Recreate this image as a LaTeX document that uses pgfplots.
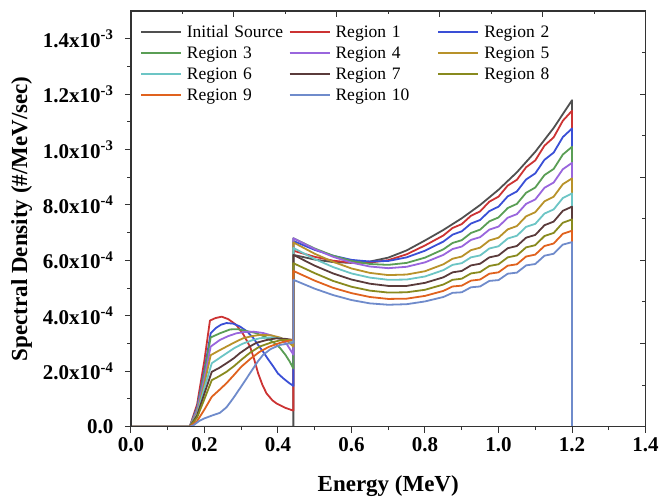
\documentclass[border=0pt]{standalone}
\usepackage{fontspec}
\setmainfont{Liberation Serif}
\usepackage{pgfplots}
\pgfplotsset{compat=1.18}
\definecolor{cSRC}{HTML}{505050}
\definecolor{cR1}{HTML}{CC3333}
\definecolor{cR2}{HTML}{3A4FD6}
\definecolor{cR3}{HTML}{5A9E55}
\definecolor{cR4}{HTML}{9966DD}
\definecolor{cR5}{HTML}{B8922A}
\definecolor{cR6}{HTML}{6CC5C5}
\definecolor{cR7}{HTML}{5A3B3B}
\definecolor{cR8}{HTML}{888A1E}
\definecolor{cR9}{HTML}{E0621E}
\definecolor{cR10}{HTML}{6F8BCB}
\begin{document}
\begin{tikzpicture}
\begin{axis}[
    name=main,
    width=515pt, height=416pt, scale only axis,
    xmin=0, xmax=1.4, ymin=0, ymax=15,
    xtick={0,0.2,0.4,0.6,0.8,1.0,1.2,1.4},
    xticklabels={0.0,0.2,0.4,0.6,0.8,1.0,1.2,1.4},
    minor x tick num=1,
    ytick={0,2,4,6,8,10,12,14},
    yticklabels={0.0, 2.0x10\textsuperscript{-4}, 4.0x10\textsuperscript{-4}, 6.0x10\textsuperscript{-4}, 8.0x10\textsuperscript{-4}, 1.0x10\textsuperscript{-3}, 1.2x10\textsuperscript{-3}, 1.4x10\textsuperscript{-3}},
    minor y tick num=1,
    xtick pos=left, ytick pos=left, tick align=outside,
    major tick length=6pt, minor tick length=3.5pt,
    tick style={black!80, line width=1pt},
    axis line style={black!80, line width=1.2pt},
    ticklabel style={font=\fontsize{21}{24}\selectfont\bfseries},
    yticklabel style={xshift=-8pt},
    xticklabel style={yshift=-1pt},
    xlabel={Energy (MeV)},
    ylabel={Spectral Density (\#/MeV/sec)},
    label style={font=\fontsize{23}{26}\selectfont\bfseries},
    xlabel style={yshift=-17pt},
    ylabel style={yshift=4pt},
    legend columns=3, legend cell align=left,
    legend style={draw=none, fill=none, inner sep=0pt, at={(0.0175,0.972)}, anchor=north west,
        font=\fontsize{17.5}{20}\selectfont, row sep=2.5pt,
        /tikz/every even column/.append style={text width=100pt, text height=13pt, text depth=4pt, inner sep=1pt},
        /tikz/every odd column/.append style={column sep=3pt}},
    legend image code/.code={\draw[#1] (0pt,0pt) -- (40pt,0pt);},
    every axis plot/.append style={line width=1.8pt, line join=round},
]
\addplot[cSRC] coordinates {(0,0) (0.442,0) (0.442,6.20) (0.5,6.03) (0.55,5.94) (0.6,5.91) (0.65,5.96) (0.7,6.10) (0.75,6.36) (0.8,6.72) (0.85,7.10) (0.9,7.52) (0.95,8.00) (1.0,8.55) (1.05,9.18) (1.1,9.92) (1.15,10.78) (1.2,11.78) (1.2,0)};
\addplot[cR1] coordinates {(0,0) (0.16,0) (0.18,0.8) (0.2,2.4) (0.215,3.83) (0.23,3.92) (0.247,3.97) (0.265,3.88) (0.287,3.67) (0.305,3.35) (0.324,2.89) (0.335,2.45) (0.346,1.93) (0.358,1.5) (0.369,1.2) (0.385,0.95) (0.396,0.84) (0.42,0.68) (0.442,0.58) (0.442,6.35) (0.5,6.13) (0.55,5.99) (0.6,5.92) (0.65,5.92) (0.7,6.01) (0.75,6.22) (0.8,6.54) (0.85,6.90) (0.875,7.17) (0.9,7.31) (0.925,7.61) (0.95,7.77) (0.975,8.12) (1.0,8.30) (1.025,8.70) (1.05,8.91) (1.075,9.36) (1.1,9.61) (1.125,10.14) (1.15,10.44) (1.175,11.04) (1.2,11.40) (1.2,0)};
\addplot[cR2] coordinates {(0,0) (0.16,0) (0.18,0.7) (0.2,2.05) (0.217,3.37) (0.23,3.55) (0.245,3.68) (0.26,3.74) (0.278,3.72) (0.296,3.62) (0.315,3.45) (0.333,3.2) (0.346,2.95) (0.36,2.7) (0.374,2.42) (0.388,2.16) (0.4,1.92) (0.414,1.75) (0.43,1.58) (0.442,1.47) (0.442,6.70) (0.5,6.38) (0.55,6.17) (0.6,6.02) (0.65,5.96) (0.7,5.98) (0.75,6.11) (0.8,6.35) (0.85,6.68) (0.875,6.93) (0.9,7.05) (0.925,7.33) (0.95,7.46) (0.975,7.78) (1.0,7.94) (1.025,8.31) (1.05,8.49) (1.075,8.92) (1.1,9.14) (1.125,9.63) (1.15,9.89) (1.175,10.45) (1.2,10.76) (1.2,0)};
\addplot[cR3] coordinates {(0,0) (0.16,0) (0.18,0.65) (0.2,1.95) (0.217,3.22) (0.242,3.37) (0.27,3.51) (0.29,3.52) (0.315,3.45) (0.34,3.38) (0.369,3.22) (0.39,3.02) (0.405,2.85) (0.42,2.6) (0.432,2.35) (0.442,2.1) (0.442,6.80) (0.5,6.43) (0.55,6.17) (0.6,5.98) (0.65,5.87) (0.7,5.84) (0.75,5.91) (0.8,6.10) (0.85,6.40) (0.875,6.63) (0.9,6.73) (0.925,6.99) (0.95,7.11) (0.975,7.41) (1.0,7.55) (1.025,7.89) (1.05,8.04) (1.075,8.44) (1.1,8.63) (1.125,9.08) (1.15,9.30) (1.175,9.82) (1.2,10.10) (1.2,0)};
\addplot[cR4] coordinates {(0,0) (0.16,0) (0.18,0.6) (0.2,1.75) (0.217,2.89) (0.242,3.13) (0.265,3.27) (0.287,3.37) (0.31,3.42) (0.333,3.43) (0.36,3.38) (0.388,3.27) (0.405,3.17) (0.423,3.0) (0.442,2.6) (0.442,6.80) (0.5,6.41) (0.55,6.13) (0.6,5.92) (0.65,5.78) (0.7,5.72) (0.75,5.77) (0.8,5.93) (0.85,6.20) (0.875,6.41) (0.9,6.50) (0.925,6.74) (0.95,6.84) (0.975,7.11) (1.0,7.22) (1.025,7.54) (1.05,7.67) (1.075,8.04) (1.1,8.20) (1.125,8.62) (1.15,8.81) (1.175,9.29) (1.2,9.52) (1.2,0)};
\addplot[cR5] coordinates {(0,0) (0.16,0) (0.18,0.5) (0.2,1.55) (0.217,2.58) (0.24,2.75) (0.26,2.89) (0.283,3.05) (0.305,3.19) (0.33,3.27) (0.35,3.31) (0.38,3.3) (0.405,3.22) (0.425,3.1) (0.442,2.89) (0.442,6.65) (0.5,6.24) (0.55,5.95) (0.6,5.71) (0.65,5.55) (0.7,5.47) (0.75,5.49) (0.8,5.61) (0.85,5.86) (0.875,6.06) (0.9,6.14) (0.925,6.37) (0.95,6.46) (0.975,6.72) (1.0,6.82) (1.025,7.12) (1.05,7.24) (1.075,7.59) (1.1,7.74) (1.125,8.13) (1.15,8.30) (1.175,8.75) (1.2,8.96) (1.2,0)};
\addplot[cR6] coordinates {(0,0) (0.16,0) (0.18,0.45) (0.2,1.4) (0.22,2.29) (0.24,2.47) (0.26,2.65) (0.283,2.85) (0.305,3.0) (0.33,3.12) (0.35,3.19) (0.38,3.22) (0.405,3.19) (0.442,3.07) (0.442,6.45) (0.5,6.05) (0.55,5.76) (0.6,5.53) (0.65,5.38) (0.7,5.30) (0.75,5.31) (0.8,5.42) (0.85,5.65) (0.875,5.84) (0.9,5.90) (0.925,6.11) (0.95,6.18) (0.975,6.43) (1.0,6.51) (1.025,6.79) (1.05,6.89) (1.075,7.21) (1.1,7.32) (1.125,7.69) (1.15,7.84) (1.175,8.25) (1.2,8.42) (1.2,0)};
\addplot[cR7] coordinates {(0,0) (0.16,0) (0.18,0.4) (0.2,1.2) (0.22,1.98) (0.24,2.12) (0.26,2.29) (0.28,2.47) (0.296,2.65) (0.32,2.87) (0.342,3.03) (0.37,3.13) (0.396,3.19) (0.42,3.17) (0.442,3.13) (0.442,6.20) (0.5,5.81) (0.55,5.53) (0.6,5.31) (0.65,5.16) (0.7,5.08) (0.75,5.08) (0.8,5.19) (0.85,5.39) (0.875,5.57) (0.9,5.62) (0.925,5.82) (0.95,5.88) (0.975,6.11) (1.0,6.18) (1.025,6.44) (1.05,6.52) (1.075,6.82) (1.1,6.92) (1.125,7.27) (1.15,7.40) (1.175,7.79) (1.2,7.94) (1.2,0)};
\addplot[cR8] coordinates {(0,0) (0.16,0) (0.18,0.33) (0.2,1.0) (0.22,1.68) (0.24,1.82) (0.26,1.98) (0.28,2.18) (0.3,2.41) (0.325,2.68) (0.35,2.89) (0.38,3.03) (0.41,3.13) (0.442,3.13) (0.442,5.90) (0.5,5.54) (0.55,5.26) (0.6,5.05) (0.65,4.91) (0.7,4.84) (0.75,4.85) (0.8,4.94) (0.85,5.13) (0.875,5.30) (0.9,5.34) (0.925,5.53) (0.95,5.58) (0.975,5.80) (1.0,5.86) (1.025,6.11) (1.05,6.18) (1.075,6.47) (1.1,6.55) (1.125,6.88) (1.15,6.99) (1.175,7.36) (1.2,7.48) (1.2,0)};
\addplot[cR9] coordinates {(0,0) (0.16,0) (0.18,0.2) (0.2,0.62) (0.22,1.08) (0.24,1.32) (0.26,1.57) (0.28,1.86) (0.3,2.16) (0.325,2.45) (0.35,2.7) (0.375,2.88) (0.4,3.0) (0.42,3.08) (0.442,3.13) (0.442,5.62) (0.5,5.27) (0.55,5.01) (0.6,4.82) (0.65,4.68) (0.7,4.61) (0.75,4.62) (0.8,4.72) (0.85,4.90) (0.875,5.06) (0.9,5.09) (0.925,5.27) (0.95,5.31) (0.975,5.52) (1.0,5.57) (1.025,5.81) (1.05,5.86) (1.075,6.14) (1.1,6.21) (1.125,6.52) (1.15,6.61) (1.175,6.96) (1.2,7.07) (1.2,0)};
\addplot[cR10] coordinates {(0,0) (0.16,0) (0.17,0.05) (0.185,0.2) (0.2,0.3) (0.22,0.4) (0.242,0.5) (0.26,0.7) (0.278,1.02) (0.3,1.45) (0.324,1.93) (0.345,2.35) (0.36,2.6) (0.38,2.8) (0.405,2.95) (0.442,3.03) (0.442,5.30) (0.5,4.98) (0.55,4.75) (0.6,4.57) (0.65,4.45) (0.7,4.40) (0.75,4.42) (0.8,4.52) (0.85,4.68) (0.875,4.83) (0.9,4.85) (0.925,5.03) (0.95,5.06) (0.975,5.26) (1.0,5.29) (1.025,5.52) (1.05,5.56) (1.075,5.82) (1.1,5.87) (1.125,6.17) (1.15,6.24) (1.175,6.57) (1.2,6.66) (1.2,0)};
\legend{Initial Source, Region 1, Region 2, Region 3, Region 4, Region 5, Region 6, Region 7, Region 8, Region 9, Region 10}
\end{axis}
\begin{axis}[
    width=515pt, height=416pt, scale only axis,
    xmin=0, xmax=1.4, ymin=0, ymax=15,
    xtick={0,0.28,0.56,0.84,1.12,1.4},
    minor xtick={0.14,0.42,0.7,0.98,1.26},
    ytick={0,3,6,9,12,15},
    minor ytick={1.5,4.5,7.5,10.5,13.5},
    xticklabels={}, yticklabels={},
    xtick pos=right, ytick pos=right, tick align=inside,
    major tick length=6pt, minor tick length=3.5pt,
    tick style={black!80, line width=1pt},
    axis line style={black!80, line width=1.2pt},
]
\end{axis}
\path ([xshift=-131pt,yshift=-75pt]main.south west) rectangle ([xshift=16pt,yshift=11pt]main.north east);
\end{tikzpicture}
\end{document}
